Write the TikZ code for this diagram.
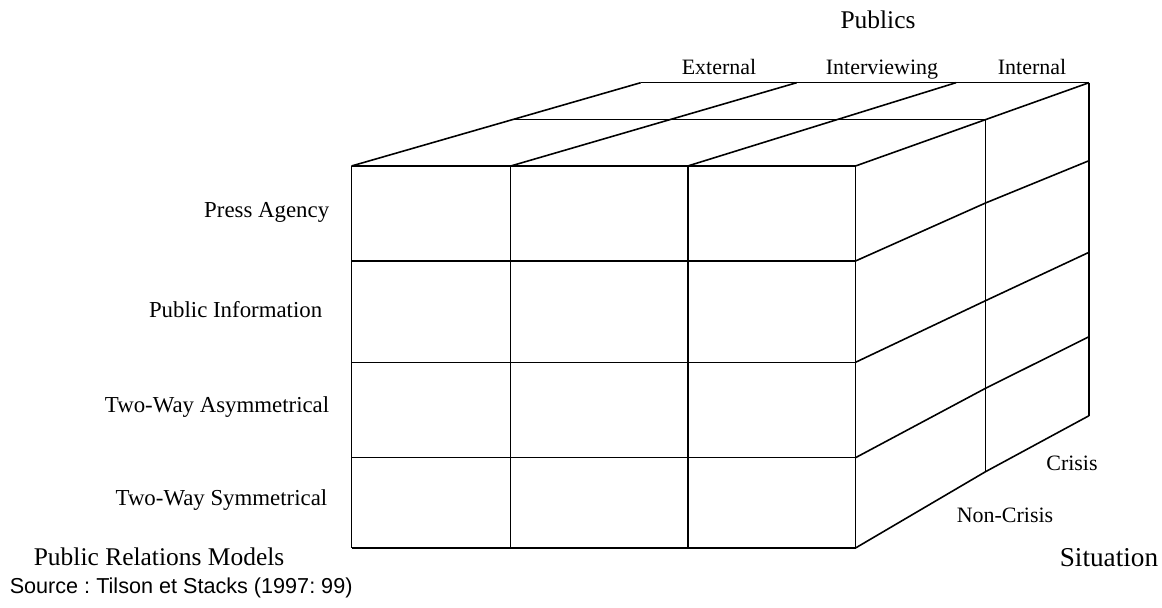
\documentclass[tikz,border=0pt]{standalone}
\usepackage{fontspec}
\setmainfont{Liberation Serif}
\newfontfamily\srcfont{Liberation Sans}
\frenchspacing
\begin{document}
\begin{tikzpicture}[x = 0.02cm, y = -0.02cm, line width = 0.9pt, inner sep = 0pt,
        model/.style = {anchor = east, font = \fontsize{13}{15}\selectfont},
        public/.style = {anchor = base, font = \fontsize{12.5}{15}\selectfont},
        axis/.style = {font = \fontsize{14.5}{17}\selectfont}]
        \useasboundingbox (0, 0) rectangle (1162, 608);
        % front
        \foreach \y in {166, 261, 362.3, 457.7, 548}
            \draw (351.5, \y) -- (855.5, \y);
        \foreach \x in {351.5, 510.7, 687.7, 855.5}
            \draw (\x, 166) -- (\x, 548);
        % top
        \foreach \f/\b in {351.5/640.7, 510.7/796.7, 687.7/956, 855.5/1089}
            \draw (\f, 166) -- (\b, 82.7);
        \draw (513.6, 119.3) -- (985.5, 119.3);
        \draw (640.7, 82.7) -- (1089, 82.7);
        % side
        \draw (985.5, 119.3) -- (985.5, 471.7);
        \draw (1089, 82.7) -- (1089, 415.7);
        \foreach \f/\m/\b in {261/203/160.7, 362.3/300.7/252.3, 457.7/388.3/336.7, 548/471.7/415.7}
            \draw (855.5, \f) -- (985.5, \m) -- (1089, \b);
        \node [axis] (publics) at (878, 20) {Publics};
        \node [public] (external) at (719, 74) {External};
        \node [public] (interviewing) at (882, 74) {Interviewing};
        \node [public] (internal) at (1032, 74) {Internal};
        \node [model] (press) at (330, 212) {Press Agency};
        \node [model] (information) at (323, 310) {Public Information};
        \node [model] (asym) at (330, 407) {Two-Way Asymmetrical};
        \node [model] (sym) at (328, 500) {Two-Way Symmetrical};
        \node [axis, anchor = west] (models) at (33, 557) {Public Relations Models};
        \node [public] (crisis) at (1072, 470) {Crisis};
        \node [public] (noncrisis) at (1005, 522) {Non-Crisis};
        \node [axis, anchor = west, font = \fontsize{15.5}{18}\selectfont] (situation) at (1059, 558) {Situation};
        \node [anchor = west, font = \srcfont\fontsize{12.3}{14}\selectfont] (source) at (9, 588) {\frenchspacing Source : Tilson et Stacks (1997: 99)};
    \end{tikzpicture}
\end{document}
